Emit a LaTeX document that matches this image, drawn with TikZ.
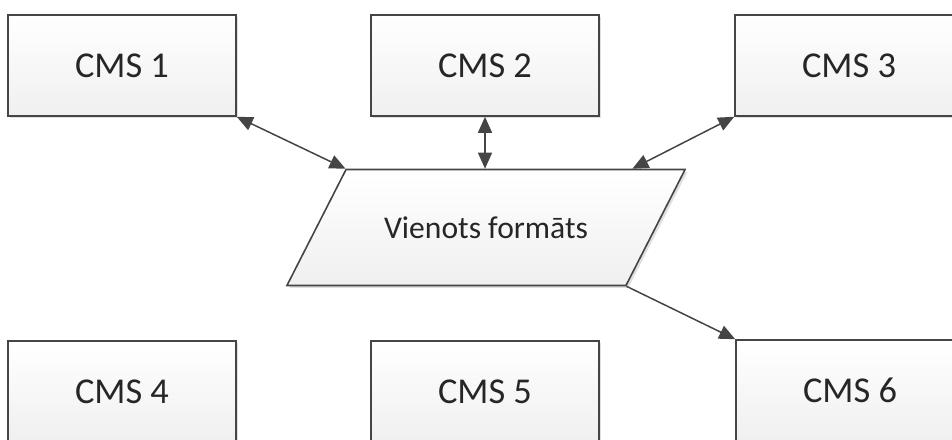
\documentclass[tikz,border=0pt]{standalone}
\usepackage{fontspec}
\setmainfont{Carlito}
\usepackage{tikz}
\usetikzlibrary{positioning, calc, shapes.geometric, arrows.meta, shadows}

\definecolor{edgegray}{HTML}{454545}
\definecolor{textgray}{HTML}{262626}

\begin{document}
\begin{tikzpicture}[x=0.5pt, y=-0.5pt,
		CmsBox/.style={rectangle, draw=edgegray, line width=0.8pt, top color=white, bottom color=gray!12,
			minimum width=114pt, minimum height=50.5pt, text=textgray, font=\fontsize{18.2}{20}\selectfont,
			drop shadow={shadow xshift=1.2pt, shadow yshift=-1.2pt, fill=black, opacity=0.12}},
		FormatNode/.style={trapezium, trapezium left angle=63, trapezium right angle=117,
			draw=edgegray, line width=0.8pt, top color=white, bottom color=gray!12,
			inner xsep=19pt, inner ysep=23.5pt, text=textgray, font=\fontsize{15.8}{18}\selectfont,
			drop shadow={shadow xshift=1.2pt, shadow yshift=-1.2pt, fill=black, opacity=0.12}},
		Tip/.tip={Triangle[length=8pt, width=7pt]},
		Link/.style={draw=edgegray, line width=0.75pt, -Tip},
		BiLink/.style={draw=edgegray, line width=0.75pt, Tip-Tip}]

	\useasboundingbox (0,0) rectangle (952,439);
	\clip (0,0) rectangle (952,439);

	\node[CmsBox] (Cms1) at (122, 65.5) {CMS 1};
	\node[CmsBox] (Cms2) at (485, 65.5) {CMS 2};
	\node[CmsBox] (Cms3) at (849, 65.5) {CMS 3};
	\node[CmsBox] (Cms4) at (122, 391.5) {CMS 4};
	\node[CmsBox] (Cms5) at (485, 391.5) {CMS 5};
	\node[CmsBox] (Cms6) at (850, 390.5) {CMS 6};

	\node[FormatNode] (Format) at (486, 227.5) {Vienots formāts};

	% connectors to the common format
	\draw[BiLink] (Cms1.south east) -- (Format.top left corner);
	\draw[BiLink] (Cms2.south) -- (Cms2.south |- Format.north);
	\draw[BiLink] (Cms3.south west) -- ($(Format.top right corner) + (-54, 0)$);
	\draw[Link] (Format.bottom right corner) -- (Cms6.north west);
\end{tikzpicture}
\end{document}
